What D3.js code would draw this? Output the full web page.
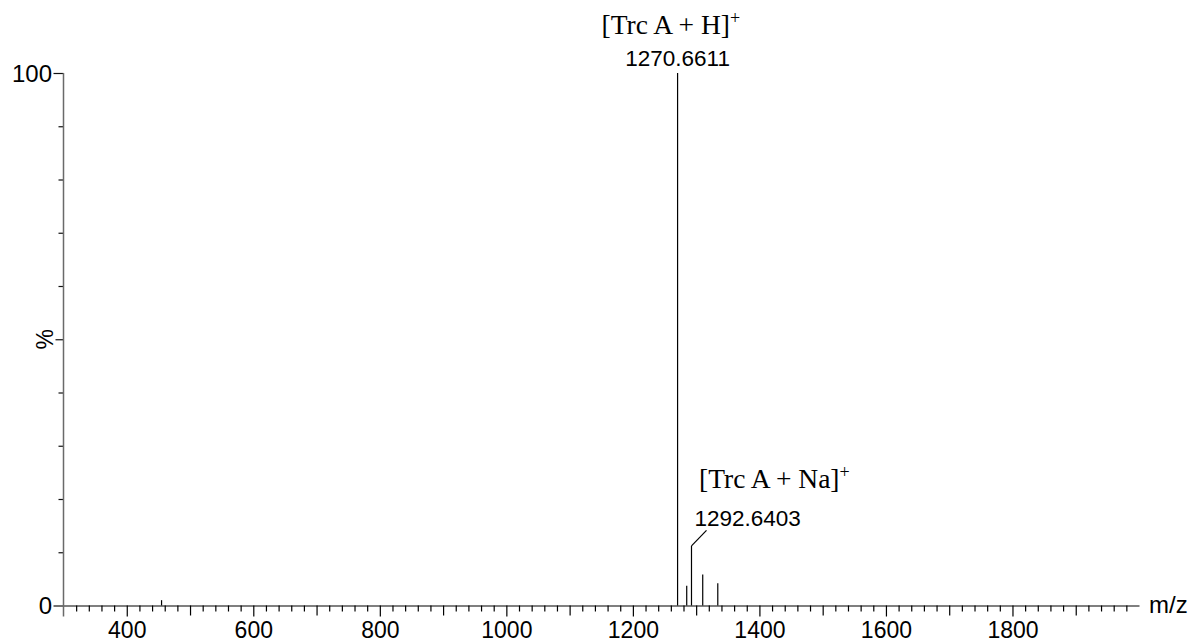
<!DOCTYPE html>
<html>
<head>
<meta charset="utf-8">
<script src="https://cdn.jsdelivr.net/npm/d3@7"></script>
<style>
  html, body { margin: 0; padding: 0; background: #fff; }
  svg { display: block; }
  .num { font-family: "Liberation Sans", Arial, Helvetica, sans-serif; fill: #000; }
  .ion { font-family: "Liberation Serif", "Times New Roman", serif; fill: #000; }
</style>
</head>
<body>
<svg id="chart" width="1195" height="643"></svg>
<script>
// Mass spectrum: m/z of each centroided peak and its relative intensity (%)
const peakMz        = [455.0, 1270.6611, 1285.1, 1292.6403, 1310.4, 1334.2];
const peakIntensity = [1.0,   100,       3.7,    11.2,      5.8,    4.2];

// Annotated peaks
const labelMz     = [1270.6611, 1292.6403];
const labelMass   = ["1270.6611", "1292.6403"];
const labelIonTxt = ["[Trc A + H]", "[Trc A + Na]"];

// Axis ticks
const xMinorTicks  = d3.range(320, 1981, 20);
const xLabelTicks  = [400, 600, 800, 1000, 1200, 1400, 1600, 1800];
const yTicks       = d3.range(0, 101, 10);
const yLabelTicks  = [0, 100];

const svg = d3.select("#chart");

const x = d3.scaleLinear().domain([300, 2000]).range([63.5, 1139]);
const y = d3.scaleLinear().domain([0, 100]).range([605.5, 73]);

// ---- x axis ----
const xAxis = d3.axisBottom(x)
  .tickValues(xMinorTicks)
  .tickSize(6)
  .tickSizeOuter(0)
  .tickFormat(d => xLabelTicks.includes(d) ? d : "");

const gx = svg.append("g")
  .attr("transform", `translate(0,${y(0)})`)
  .call(xAxis);
gx.select(".domain").attr("stroke", "#000").attr("stroke-width", 1.2);
gx.selectAll(".tick line")
  .attr("stroke", "#000")
  .attr("stroke-width", 1.2)
  .attr("y2", d => d % 200 === 0 ? 11 : (d % 100 === 0 ? 10 : 6));
gx.selectAll(".tick text")
  .attr("class", "num")
  .attr("y", 16)
  .attr("dy", "0.71em")
  .style("font-size", "23px");

svg.append("text")
  .attr("class", "num")
  .attr("x", 1149)
  .attr("y", 613)
  .style("font-size", "24px")
  .text("m/z");

// ---- y axis ----
const yAxis = d3.axisLeft(y)
  .tickValues(yTicks)
  .tickSize(5)
  .tickSizeOuter(0)
  .tickFormat(d => yLabelTicks.includes(d) ? d : "");

const gy = svg.append("g")
  .attr("transform", `translate(${x(300)},0)`)
  .call(yAxis);
gy.select(".domain").remove();
gy.selectAll(".tick line")
  .attr("stroke", "#111")
  .attr("stroke-width", 1.2)
  .attr("x2", d => (d === 0 || d === 100) ? -10 : (d === 50 ? -8 : -5));
gy.selectAll(".tick text")
  .attr("class", "num")
  .attr("x", -11.5)
  .attr("dy", "0.35em")
  .style("font-size", "24px");

svg.append("line")
  .attr("x1", x(300)).attr("x2", x(300))
  .attr("y1", y(100)).attr("y2", y(0) + 11)
  .attr("stroke", "#6a6a6a")
  .attr("stroke-width", 1.5);

svg.append("text")
  .attr("class", "num")
  .attr("transform", `translate(53,${y(50)}) rotate(-90)`)
  .attr("text-anchor", "middle")
  .style("font-size", "23px")
  .text("%");

// ---- peaks ----
const peaks = peakMz.map((mz, i) => ({ mz, v: peakIntensity[i] }));
svg.append("g")
  .selectAll("line")
  .data(peaks)
  .join("line")
  .attr("x1", d => x(d.mz)).attr("x2", d => x(d.mz))
  .attr("y1", y(0)).attr("y2", d => y(d.v))
  .attr("stroke", "#000")
  .attr("stroke-width", 1.2);

// ---- annotations ----
// [M+H]+ : label stacked directly above the base peak
{
  const mz = labelMz[0];
  const v = peakIntensity[peakMz.indexOf(mz)];
  svg.append("text")
    .attr("class", "num")
    .attr("x", x(mz))
    .attr("y", y(v) - 7)
    .attr("text-anchor", "middle")
    .style("font-size", "22.5px")
    .text(labelMass[0]);
  const t = svg.append("text")
    .attr("class", "ion")
    .attr("x", x(mz) - 76)
    .attr("y", 33.5)
    .style("font-size", "27.5px")
    .text(labelIonTxt[0]);
  t.append("tspan").attr("dy", -10).style("font-size", "18px").text("+");
}

// [M+Na]+ : label offset to the right with a leader line
{
  const mz = labelMz[1];
  const v = peakIntensity[peakMz.indexOf(mz)];
  const px = x(mz), py = y(v);
  svg.append("line")
    .attr("x1", px).attr("y1", py)
    .attr("x2", px + 15).attr("y2", py - 15.5)
    .attr("stroke", "#000")
    .attr("stroke-width", 1.2);
  svg.append("text")
    .attr("class", "num")
    .attr("x", px + 3)
    .attr("y", py - 19.5)
    .style("font-size", "22.5px")
    .text(labelMass[1]);
  const t = svg.append("text")
    .attr("class", "ion")
    .attr("x", px + 7.5)
    .attr("y", py - 57.5)
    .style("font-size", "27.5px")
    .text(labelIonTxt[1]);
  t.append("tspan").attr("dy", -10).style("font-size", "18px").text("+");
}
</script>
</body>
</html>
